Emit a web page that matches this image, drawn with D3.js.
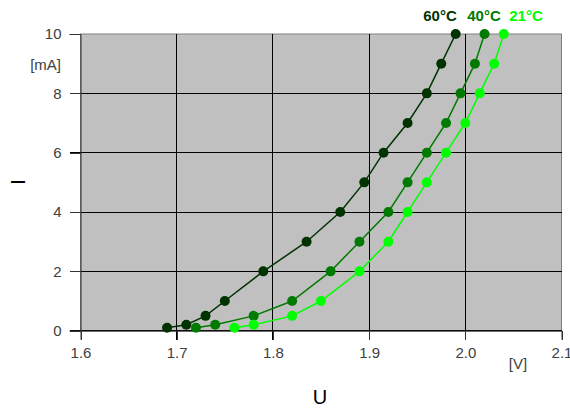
<!DOCTYPE html>
<html>
<head>
<meta charset="utf-8">
<script src="https://cdn.jsdelivr.net/npm/d3@7"></script>
<style>
  body { margin: 0; background: #fff; }
  svg { display: block; font-family: "Liberation Sans", Arial, sans-serif; }
</style>
</head>
<body>
<div id="chart"></div>
<script>
// ---- data ----
const currents = [0.1, 0.2, 0.5, 1, 2, 3, 4, 5, 6, 7, 8, 9, 10];
const u60 = [1.69, 1.71, 1.73, 1.75, 1.79, 1.835, 1.87, 1.895, 1.915, 1.94, 1.96, 1.975, 1.99];
const u40 = [1.72, 1.74, 1.78, 1.82, 1.86, 1.89, 1.92, 1.94, 1.96, 1.98, 1.995, 2.01, 2.02];
const u21 = [1.76, 1.78, 1.82, 1.85, 1.89, 1.92, 1.94, 1.96, 1.98, 2.0, 2.015, 2.03, 2.04];
const seriesNames = ["60°C", "40°C", "21°C"];
const seriesColors = ["#003300", "#007a00", "#00ff00"];
const xTicks = [1.6, 1.7, 1.8, 1.9, 2.0, 2.1];
const yTicks = [0, 2, 4, 6, 8, 10];

const series = [u60, u40, u21].map((us, i) => ({
  name: seriesNames[i],
  color: seriesColors[i],
  points: us.map((u, j) => ({ u, i: currents[j] }))
}));

// ---- layout ----
const W = 570, H = 409;
const plot = { left: 80.5, right: 561.5, top: 34, bottom: 330.7 };

const x = d3.scaleLinear().domain([1.6, 2.1]).range([plot.left, plot.right]);
const y = d3.scaleLinear().domain([0, 10]).range([plot.bottom, plot.top]);

const svg = d3.select('#chart').append('svg')
  .attr('width', W)
  .attr('height', H);

// plot background
svg.append('rect')
  .attr('x', plot.left).attr('y', plot.top)
  .attr('width', plot.right - plot.left)
  .attr('height', plot.bottom - plot.top)
  .attr('fill', '#c0c0c0')
  .attr('stroke', '#808080')
  .attr('stroke-width', 1);

// grid
const grid = svg.append('g').attr('stroke', '#000').attr('stroke-width', 1).attr('shape-rendering', 'crispEdges');
grid.selectAll('line.h')
  .data(yTicks.filter(d => d < 10))
  .join('line')
  .attr('class', 'h')
  .attr('x1', plot.left - 11).attr('x2', plot.right)
  .attr('y1', d => y(d)).attr('y2', d => y(d));
grid.selectAll('line.v')
  .data(xTicks.filter(d => d > 1.6 && d < 2.1))
  .join('line')
  .attr('class', 'v')
  .attr('y1', plot.top).attr('y2', plot.bottom + 9)
  .attr('x1', d => x(d)).attr('x2', d => x(d));

// axes
const yAxis = svg.append('g')
  .attr('transform', `translate(${plot.left},0)`)
  .call(d3.axisLeft(y).tickValues(yTicks).tickSize(11).tickFormat(d3.format('d')));
const xAxis = svg.append('g')
  .attr('transform', `translate(0,${plot.bottom})`)
  .call(d3.axisBottom(x).tickValues(xTicks).tickSize(9).tickFormat(d3.format('.1f')));

[yAxis, xAxis].forEach(a => {
  a.select('.domain').attr('stroke', '#333');
  a.selectAll('.tick line').attr('stroke', '#333').attr('shape-rendering', 'crispEdges');
  a.selectAll('text').attr('fill', '#404040').attr('font-size', 15)
    .attr('font-family', '"Liberation Sans", Arial, sans-serif');
});
yAxis.selectAll('text').attr('x', -19);
xAxis.selectAll('text').attr('y', 17);

// unit labels and titles
svg.append('text')
  .attr('x', 61).attr('y', 70)
  .attr('text-anchor', 'end')
  .attr('font-size', 15).attr('fill', '#404040')
  .text('[mA]');
svg.append('text')
  .attr('x', 518).attr('y', 369)
  .attr('text-anchor', 'middle')
  .attr('font-size', 15).attr('fill', '#404040')
  .text('[V]');
svg.append('text')
  .attr('x', 320).attr('y', 404)
  .attr('text-anchor', 'middle')
  .attr('font-size', 20).attr('fill', '#000')
  .text('U');
svg.append('text')
  .attr('transform', 'translate(25,182) rotate(-90)')
  .attr('text-anchor', 'middle')
  .attr('font-size', 20).attr('fill', '#000')
  .text('I');

// series lines + markers
const line = d3.line().x(d => x(d.u)).y(d => y(d.i));
const sg = svg.append('g')
  .selectAll('g')
  .data(series)
  .join('g');

sg.append('path')
  .attr('d', d => line(d.points))
  .attr('fill', 'none')
  .attr('stroke', d => d.color)
  .attr('stroke-width', 1.5);

sg.selectAll('circle')
  .data(d => d.points.map(p => ({ ...p, color: d.color })))
  .join('circle')
  .attr('cx', d => x(d.u))
  .attr('cy', d => y(d.i))
  .attr('r', 5)
  .attr('fill', d => d.color);

// legend above the top ends
const legendX = [440, 484, 526];
svg.append('g')
  .selectAll('text')
  .data(series)
  .join('text')
  .attr('x', (d, i) => legendX[i])
  .attr('y', 21)
  .attr('text-anchor', 'middle')
  .attr('font-size', 15)
  .attr('font-weight', 'bold')
  .attr('fill', d => d.color)
  .text(d => d.name);
</script>
</body>
</html>
